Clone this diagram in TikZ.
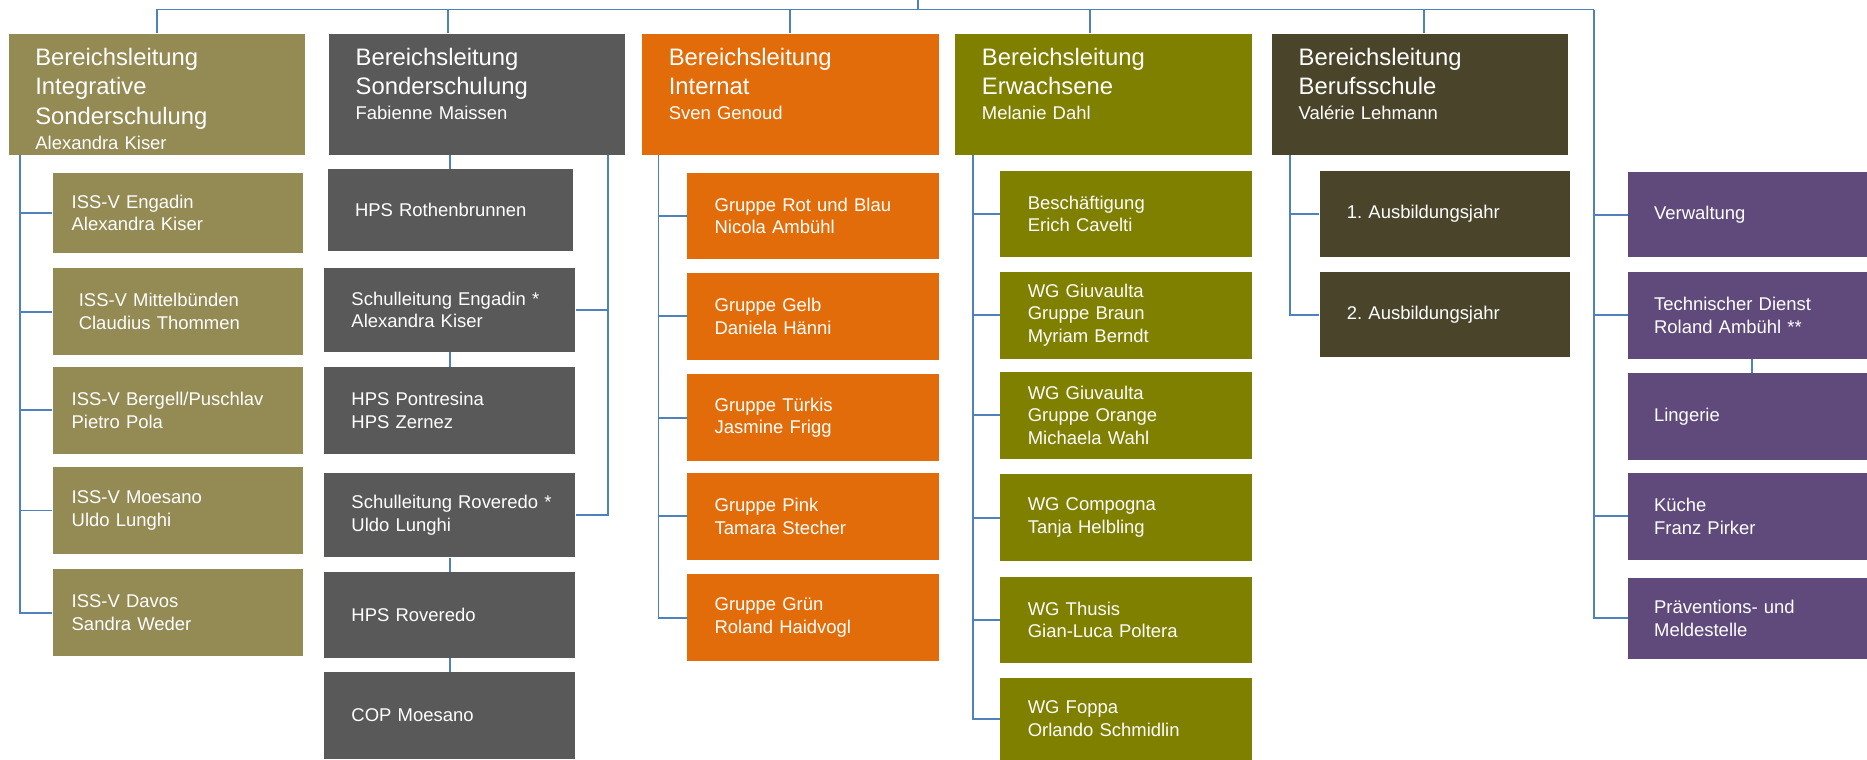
\documentclass[tikz,border=0pt]{standalone}
\usepackage{fontspec}
\setmainfont{Liberation Sans}
\definecolor{olivegold}{HTML}{948A54}
\definecolor{darkgrey}{HTML}{595959}
\definecolor{orangebox}{HTML}{E36C0A}
\definecolor{olivebox}{HTML}{7F7F00}
\definecolor{brownbox}{HTML}{4A452A}
\definecolor{purplebox}{HTML}{604A7B}
\definecolor{linkblue}{HTML}{4F81BD}
\newcommand{\blt}[1]{{\fontsize{20}{21}\selectfont #1}}
\frenchspacing
\begin{document}
\begin{tikzpicture}[x=1pt, y=-1pt,
  head/.style={anchor=north west, text=white, align=left, inner xsep=22.5pt, inner ysep=0pt,
    text width=204pt, minimum width=249pt, text height=27pt, text depth=75pt,
    font=\fontsize{15.5}{21}\selectfont},
  kid/.style={anchor=north west, text=white, align=left, inner ysep=0pt, inner xsep=23pt,
    minimum height=73pt, font=\fontsize{15.5}{19}\selectfont},
  c1/.style={kid, fill=olivegold, inner xsep=16pt, text width=178pt, minimum width=210pt},
  c2/.style={kid, fill=darkgrey, text width=165pt, minimum width=211pt},
  c3/.style={kid, fill=orangebox, text width=165pt, minimum width=211pt},
  c4/.style={kid, fill=olivebox, text width=165pt, minimum width=211pt},
  c5/.style={kid, fill=brownbox, text width=164pt, minimum width=210pt},
  c6/.style={kid, fill=purplebox, inner xsep=22pt, text width=157pt, minimum width=201pt},
  link/.style={draw=linkblue, line width=1.6pt}]
\useasboundingbox (0,0) rectangle (1568,638);

\node[head, fill=olivegold] (h1) at (7,28) {\blt{Bereichsleitung}\\[3.5pt]\blt{Integrative}\\[3.5pt]\blt{Sonderschulung}\\Alexandra Kiser};
\node[head, fill=darkgrey] (h2) at (276,28) {\blt{Bereichsleitung}\\[3.5pt]\blt{Sonderschulung}\\Fabienne Maissen};
\node[head, fill=orangebox] (h3) at (539,28) {\blt{Bereichsleitung}\\[3.5pt]\blt{Internat}\\Sven Genoud};
\node[head, fill=olivebox] (h4) at (802,28) {\blt{Bereichsleitung}\\[3.5pt]\blt{Erwachsene}\\Melanie Dahl};
\node[head, fill=brownbox] (h5) at (1068,28) {\blt{Bereichsleitung}\\[3.5pt]\blt{Berufsschule}\\Valérie Lehmann};

% Integrative Sonderschulung
\node[c1, minimum height=67pt] (a1) at (44,145) {ISS-V Engadin\\Alexandra Kiser};
\node[c1, inner xsep=22pt, text width=166pt] (a2) at (44,225) {ISS-V Mittelbünden\\Claudius Thommen};
\node[c1] (a3) at (44,308) {ISS-V Bergell/Puschlav\\Pietro Pola};
\node[c1] (a4) at (44,392) {ISS-V Moesano\\Uldo Lunghi};
\node[c1] (a5) at (44,478) {ISS-V Davos\\Sandra Weder};

% Sonderschulung
\node[c2, minimum width=206pt, text width=160pt, minimum height=69pt] (b1) at (275,142) {HPS Rothenbrunnen};
\node[c2, minimum height=70pt] (b2) at (272,225) {\mbox{Schulleitung Engadin *}\\Alexandra Kiser};
\node[c2] (b3) at (272,308) {HPS Pontresina\\HPS Zernez};
\node[c2, minimum height=71pt] (b4) at (272,397) {\mbox{Schulleitung Roveredo *}\\Uldo Lunghi};
\node[c2, minimum height=72pt] (b5) at (272,480) {HPS Roveredo};
\node[c2] (b6) at (272,564) {COP Moesano};

% Internat
\node[c3, minimum height=72pt] (c1) at (577,145) {Gruppe Rot und Blau\\Nicola Ambühl};
\node[c3] (c2) at (577,229) {Gruppe Gelb\\Daniela Hänni};
\node[c3] (c3) at (577,314) {Gruppe Türkis\\Jasmine Frigg};
\node[c3] (c4) at (577,397) {Gruppe Pink\\Tamara Stecher};
\node[c3] (c5) at (577,482) {Gruppe Grün\\Roland Haidvogl};

% Erwachsene
\node[c4] (d1) at (840,143) {Beschäftigung\\Erich Cavelti};
\node[c4] (d2) at (840,228) {WG Giuvaulta\\Gruppe Braun\\Myriam Berndt};
\node[c4] (d3) at (840,312) {WG Giuvaulta\\Gruppe Orange\\Michaela Wahl};
\node[c4] (d4) at (840,398) {WG Compogna\\Tanja Helbling};
\node[c4] (d5) at (840,484) {WG Thusis\\Gian-Luca Poltera};
\node[c4, minimum height=69pt] (d6) at (840,569) {WG Foppa\\Orlando Schmidlin};

% Berufsschule
\node[c5] (e1) at (1108,143) {1. Ausbildungsjahr};
\node[c5, minimum height=72pt] (e2) at (1108,228) {2. Ausbildungsjahr};

% Dienste
\node[c6, minimum height=72pt] (f1) at (1367,144) {Verwaltung};
\node[c6] (f2) at (1367,228) {Technischer Dienst\\Roland Ambühl **};
\node[c6] (f3) at (1367,313) {Lingerie};
\node[c6] (f4) at (1367,397) {Küche\\Franz Pirker};
\node[c6, minimum height=68pt] (f5) at (1367,485) {Präventions- und\\Meldestelle};

\coordinate (root) at (771,0);
\coordinate (bar) at (771,8);
\coordinate (adm) at (1338.5,8);
\draw[link] (root) -- (bar);
\draw[link] (h1.north) |- (bar);
\draw[link] ([xshift=-24.5pt]h2.north) |- (bar);
\draw[link] (h3.north) |- (bar);
\draw[link] ([xshift=-11.5pt]h4.north) |- (bar);
\draw[link] ([xshift=3.5pt]h5.north) |- (bar) -- (adm);

\foreach \k in {a1,a2,a3,a4,a5} \draw[link] ([xshift=10pt]h1.south west) |- (\k.west);
\draw[link] (b1.north |- h2.south) -- (b1.north);
\foreach \k in {b2,b4} \draw[link] ([xshift=-14.5pt]h2.south east) |- (\k.east);
\draw[link] (b2) -- (b3);
\draw[link] (b4) -- (b5);
\draw[link] (b5) -- (b6);
\foreach \k in {c1,c2,c3,c4,c5} \draw[link] ([xshift=14pt]h3.south west) |- (\k.west);
\foreach \k in {d1,d2,d3,d4,d5,d6} \draw[link] ([xshift=15pt]h4.south west) |- (\k.west);
\foreach \k in {e1,e2} \draw[link] ([xshift=15.5pt]h5.south west) |- (\k.west);
\foreach \k in {f1,f2,f4,f5} \draw[link] (adm) |- (\k.west);
\draw[link] ([xshift=4pt]f2.south) -- ([xshift=4pt]f3.north);
\end{tikzpicture}
\end{document}
